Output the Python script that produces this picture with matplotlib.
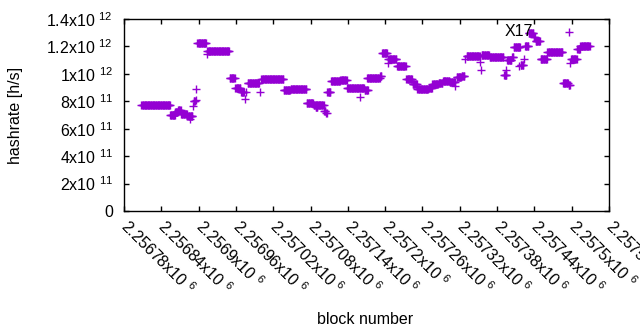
#!/usr/bin/env python3
"""
Hashrate per block, gnuplot-style scatter of '+' points.
"""

import matplotlib

matplotlib.use("Agg")
import matplotlib.pyplot as plt
import numpy as np

POINT_COLOR = "#9400D3"
TEXT_COLOR = "#000000"

BASE_BLOCK = 2256780

# runs of consecutive blocks with the same estimated hashrate
# first / last block are offsets from BASE_BLOCK, rate is in units of 1e11 h/s
run_first = [28, 74, 82, 87, 92, 102, 106, 111, 112, 115, 116, 118, 133, 134,
             170, 179, 188, 195, 197, 199, 218, 221, 257, 268, 294, 305, 308,
             322, 325, 327, 333, 348, 359, 380, 387, 391, 412, 415, 424, 425,
             439, 454, 464, 472, 490, 496, 506, 513, 524, 533, 535, 543, 549,
             551, 573, 574, 575, 588, 611, 614, 616, 624, 627, 636, 638, 643,
             645, 651, 659, 662, 670, 681, 706, 715, 716, 718, 719, 729, 734]
run_last = [74, 82, 86, 91, 101, 110, 106, 111, 114, 115, 116, 132, 133, 169,
            178, 187, 193, 195, 197, 217, 218, 256, 267, 293, 304, 321, 311,
            324, 326, 332, 347, 358, 386, 380, 392, 411, 414, 423, 424, 438,
            453, 463, 471, 489, 495, 505, 512, 523, 532, 533, 542, 547, 549,
            572, 573, 574, 587, 610, 615, 614, 623, 626, 637, 636, 642, 643,
            650, 658, 661, 669, 680, 705, 714, 717, 716, 718, 728, 733, 749]
run_rate = [7.70, 7.00, 7.20, 7.40, 7.10, 6.90, 6.70, 7.65, 8.00, 8.10, 8.87,
            12.27, 11.45, 11.64, 9.67, 8.94, 8.70, 8.19, 8.67, 9.30, 8.65,
            9.60, 8.80, 8.87, 7.85, 7.70, 7.55, 7.30, 7.15, 8.67, 9.48, 9.55,
            9.00, 8.33, 8.80, 9.67, 9.84, 11.50, 10.80, 11.06, 10.55, 9.60,
            9.23, 8.87, 9.00, 9.26, 9.35, 9.48, 9.40, 9.10, 9.75, 9.87, 11.10,
            11.30, 10.87, 10.30, 11.40, 11.20, 9.90, 10.30, 11.00, 11.25,
            11.95, 10.57, 10.65, 11.10, 12.00, 12.95, 12.70, 12.40, 11.06,
            11.57, 9.35, 9.19, 13.03, 10.82, 11.06, 11.79, 12.03]

xtick_blocks = [2256780, 2256840, 2256900, 2256960, 2257020, 2257080, 2257140,
                2257200, 2257260, 2257320, 2257380, 2257440, 2257500, 2257560]
xtick_labels = ["2.25678x10 $^{6}$", "2.25684x10 $^{6}$", "2.2569x10 $^{6}$",
                "2.25696x10 $^{6}$", "2.25702x10 $^{6}$", "2.25708x10 $^{6}$",
                "2.25714x10 $^{6}$", "2.2572x10 $^{6}$", "2.25726x10 $^{6}$",
                "2.25732x10 $^{6}$", "2.25738x10 $^{6}$", "2.25744x10 $^{6}$",
                "2.2575x10 $^{6}$", "2.25756x10 $^{6}$"]
ytick_values = [0, 2e11, 4e11, 6e11, 8e11, 1e12, 1.2e12, 1.4e12]
ytick_labels = ["0", "2x10 $^{11}$", "4x10 $^{11}$", "6x10 $^{11}$",
                "8x10 $^{11}$", "1x10 $^{12}$", "1.2x10 $^{12}$",
                "1.4x10 $^{12}$"]

ANNOTATION = "X17"
ANNOTATION_AT = (2257415, 1.312e12)


def _set_style() -> None:
    plt.rcParams.update(
        {
            "font.family": ["Liberation Sans", "DejaVu Sans"],
            "font.size": 11.5,
            "mathtext.fontset": "custom",
            "mathtext.rm": "Liberation Sans",
            "mathtext.default": "regular",
            "axes.linewidth": 1.0,
            "axes.edgecolor": "#000000",
        }
    )


def _expand_runs():
    blocks, rates = [], []
    for first, last, rate in zip(run_first, run_last, run_rate):
        b = np.arange(first, last + 1) + BASE_BLOCK
        blocks.append(b)
        rates.append(np.full(len(b), rate * 1e11))
    return np.concatenate(blocks), np.concatenate(rates)


def main() -> None:
    _set_style()
    fig = plt.figure(figsize=(6.4, 3.3), dpi=100)
    ax = fig.add_axes([124 / 640, 1 - 211 / 330, 485 / 640, 192 / 330])

    blocks, rates = _expand_runs()
    ax.plot(blocks, rates, linestyle="none", marker="+", markersize=5.2,
            markeredgewidth=1.0, color=POINT_COLOR, clip_on=False)

    ax.set_xlim(xtick_blocks[0], xtick_blocks[-1])
    ax.set_ylim(ytick_values[0], ytick_values[-1])

    ax.set_yticks(ytick_values, ytick_labels)
    ax.set_xticks(xtick_blocks, xtick_labels, rotation=-45, ha="left",
                  va="center", rotation_mode="anchor")
    ax.tick_params(axis="both", direction="in", length=3.5, width=1.0,
                   top=True, right=True, colors=TEXT_COLOR)
    ax.tick_params(axis="y", pad=8)
    ax.tick_params(axis="x", pad=9)

    ax.text(*ANNOTATION_AT, ANNOTATION, ha="center", va="center",
            color=TEXT_COLOR)

    fig.text(365 / 640, 1 - 320 / 330, "block number", ha="center",
             va="center", color=TEXT_COLOR)
    fig.text(16 / 640, 1 - 115 / 330, "hashrate [h/s]", ha="center",
             va="center", rotation=90, color=TEXT_COLOR)

    fig.savefig("out.png", dpi=100)
    plt.close(fig)


if __name__ == "__main__":
    main()
